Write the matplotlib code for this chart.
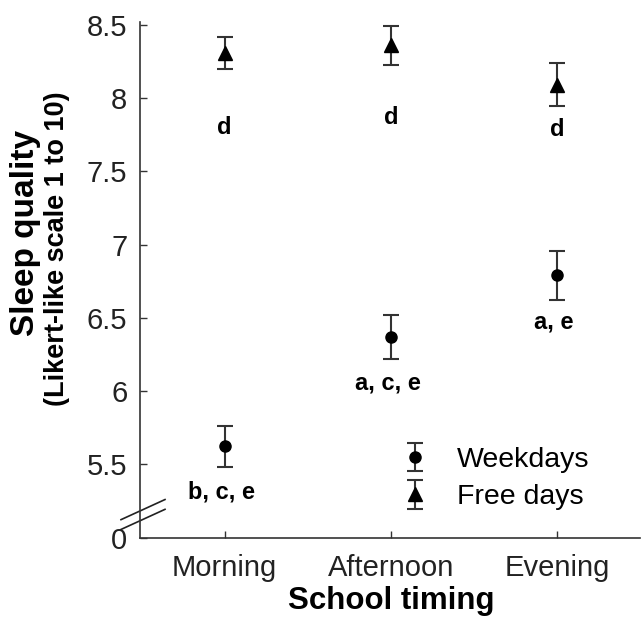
import matplotlib.pyplot as plt
import numpy as np

plt.rcParams['font.family'] = ['Liberation Sans', 'DejaVu Sans']

timings = ['Morning', 'Afternoon', 'Evening']
weekday_mean = [5.625, 6.371, 6.79]
weekday_err = [0.14, 0.15, 0.17]
freeday_mean = [8.31, 8.36, 8.093]
freeday_err = [0.11, 0.133, 0.145]
weekday_letters = ['b, c, e', 'a, c, e', 'a, e']
freeday_letters = ['d', 'd', 'd']
weekday_letter_y = [5.31, 6.056, 6.473]
freeday_letter_y = [7.797, 7.865, 7.783]
yticks = [5.0, 5.5, 6.0, 6.5, 7.0, 7.5, 8.0, 8.5]
yticklabels = ['0', '5.5', '6', '6.5', '7', '7.5', '8', '8.5']

W, H = 644, 619
fig = plt.figure(figsize=(W / 100, H / 100), dpi=100)
ax = fig.add_axes([140 / W, 1 - 537.7 / H, 500 / W, 515.7 / H])

x = np.arange(1, len(timings) + 1)
err_style = dict(ecolor='#333333', elinewidth=1.5, capsize=5.5, capthick=1.5,
                 color='black', linestyle='none')
ax.errorbar(x, weekday_mean, yerr=weekday_err, marker='o', markersize=8,
            label='Weekdays', **err_style)
ax.errorbar(x, freeday_mean, yerr=freeday_err, marker='^', markersize=10,
            label='Free days', **err_style)

# significance letters
for xi, lab, yi in zip(x, weekday_letters, weekday_letter_y):
    ax.text(xi - 0.02, yi, lab, ha='center', va='center', fontsize=17, fontweight='bold')
for xi, lab, yi in zip(x, freeday_letters, freeday_letter_y):
    ax.text(xi, yi, lab, ha='center', va='center', fontsize=17, fontweight='bold')

ax.set_xlim(0.49, 3.5)
ax.set_ylim(5.0, 8.52)
ax.set_xticks(x)
ax.set_xticklabels(timings)
ax.set_yticks(yticks)
ax.set_yticklabels(yticklabels)
ax.tick_params(direction='in', length=5, width=1, colors='#333333',
               labelcolor='#222222', labelsize=21)
ax.tick_params(axis='y', pad=9)
ax.tick_params(axis='x', pad=12)
for side in ['top', 'right']:
    ax.spines[side].set_visible(False)
for side in ['left', 'bottom']:
    ax.spines[side].set_color('#333333')
    ax.spines[side].set_linewidth(1.2)

# axis break marks
for y0 in [0.035, 0.016]:
    ax.plot([-0.038, 0.05], [y0, y0 + 0.039], transform=ax.transAxes,
            color='#222222', linewidth=1.2, clip_on=False)

fig.text(391 / W, 1 - 601 / H, 'School timing', ha='center', va='center',
         fontsize=22.5, fontweight='bold')
fig.text(26 / W, 1 - 233 / H, 'Sleep quality', rotation=90, ha='center', va='center',
         fontsize=24, fontweight='bold')
fig.text(57 / W, 1 - 249 / H, '(Likert-like scale 1 to 10)', rotation=90, ha='center',
         va='center', fontsize=19.5, fontweight='bold')

ax.legend(loc='upper left', bbox_to_anchor=(0.521, 0.176), frameon=False, fontsize=20.5,
          handlelength=1.0, handletextpad=0.98, labelspacing=0.4, borderpad=0,
          borderaxespad=0)

fig.savefig('out.png', dpi=100)
